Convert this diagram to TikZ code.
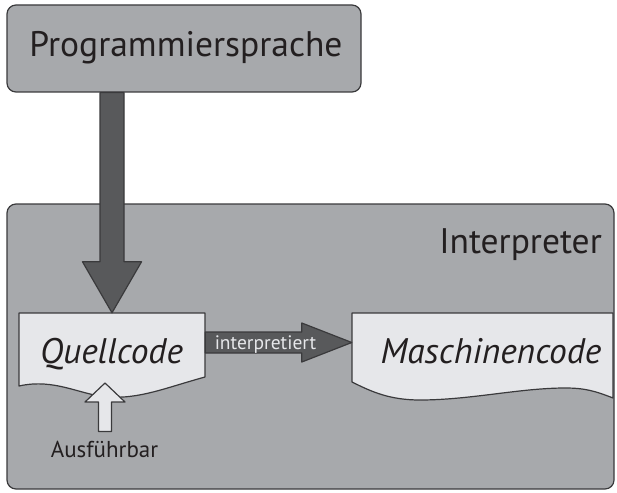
\documentclass[tikz,border=0pt]{standalone}
\usepackage{fontspec}
\setmainfont{PT Sans}
\usetikzlibrary{calc}

\definecolor{panel}{HTML}{A7A9AC}
\definecolor{paper}{HTML}{E6E7EA}
\definecolor{arrowgray}{HTML}{58595B}
\definecolor{edge}{HTML}{3A3A3C}
\definecolor{ink}{HTML}{231F20}

\begin{document}
\begin{tikzpicture}[x=1pt,y=-1pt,
  boxline/.style={draw=edge, line width=1.2pt, line join=round},
  panelbox/.style={boxline, fill=panel, rounded corners=9pt, inner sep=0pt},
  docshape/.style={boxline, fill=paper},
  bigtext/.style={font=\fontsize{35.5}{42}\selectfont, text=ink, inner sep=0pt},
  doctext/.style={font=\fontsize{35.5}{42}\selectfont\itshape, text=ink, inner sep=0pt},
  smalltext/.style={font=\fontsize{23}{27}\selectfont, text=ink, inner sep=0pt},
  % block arrow: shaft half width, head half width, head length
  blockarrow/.style n args={3}{to path={
    let \p1=(\tikztostart), \p2=(\tikztotarget),
        \p3=($(\p2)!#3!(\p1)$) in
    ($(\p1)!#1!-90:(\p2)$) -- ($(\p3)!#1!90:(\p1)$) --
    ($(\p3)!#2!90:(\p1)$) -- (\p2) --
    ($(\p3)!#2!-90:(\p1)$) -- ($(\p3)!#1!-90:(\p1)$) --
    ($(\p1)!#1!90:(\p2)$) -- cycle}}
]
\useasboundingbox (0,0) rectangle (617,492);

% language box
\node[panelbox, minimum width=354pt, minimum height=87pt] (prog) at (184,48.5) {};
\node[bigtext, anchor=base] (progtext) at (186,57) {Programmiersprache};

% interpreter container
\node[panelbox, minimum width=607pt, minimum height=285pt] (interp) at (310.5,346.5) {};
\node[bigtext, anchor=base east] (interplabel) at (602,253) {Interpreter};

% source code document
\draw[docshape] (19,313) -- (205,313) -- (205,377)
  .. controls (165,388) and (140,399) .. (108,397)
  .. controls (80,395) and (55,378) .. (19,386) -- cycle;
\node[minimum width=186pt, minimum height=59pt, inner sep=0pt] (quell) at (112,342.5) {};
\node[doctext, anchor=base] (quelltext) at (111.5,363) {Quellcode};

% machine code document
\draw[docshape] (352,313) -- (613,313) -- (613,398)
  .. controls (595,391) and (585,388) .. (565,388)
  .. controls (520,388) and (470,400) .. (420,400)
  .. controls (390,400) and (372,392) .. (352,382) -- cycle;
\node[minimum width=261pt, minimum height=59pt, inner sep=0pt] (masch) at (482.5,342.5) {};
\node[doctext, anchor=base] (maschtext) at (491,363) {Maschinencode};

% language feeds the source code
\draw[boxline, fill=arrowgray] (prog.south -| quell.north)
  to[blockarrow={12pt}{29.5pt}{51pt}] (quell.north);

% interpretation step
\draw[boxline, fill=arrowgray] (quell.east)
  to[blockarrow={10.5pt}{19.5pt}{50pt}] (masch.west);
\node[font=\fontsize{19.5}{23}\selectfont, text=paper, anchor=base, inner sep=0pt]
  (steplabel) at (265.5,349) {interpretiert};

% executable hint
\coordinate (wavetip) at (105,383);
\node[smalltext, anchor=base] (ausf) at (104.5,457) {Ausführbar};
\draw[boxline, fill=paper] ($(ausf.north)+(0.5,-9)$)
  to[blockarrow={6.5pt}{20pt}{19pt}] (wavetip);
\end{tikzpicture}
\end{document}
